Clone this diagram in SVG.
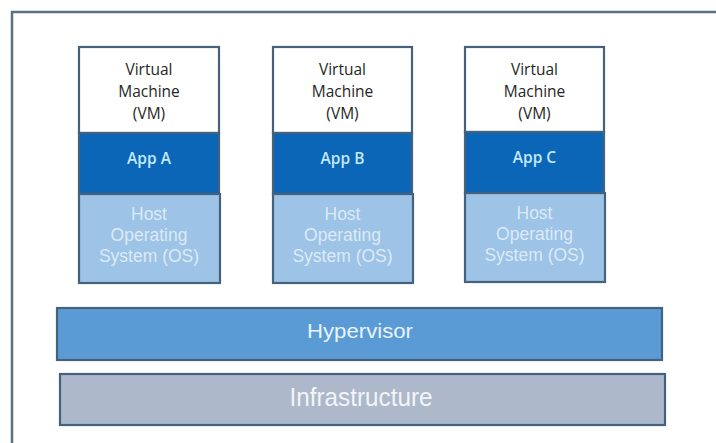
<svg xmlns="http://www.w3.org/2000/svg" width="716" height="443" viewBox="0 0 716 443">
  <style>
    .frame { fill: none; stroke: #587183; stroke-width: 2.5; }
    .box { stroke: #45627C; stroke-width: 2.2; }
    .vm { fill: #FFFFFF; }
    .app { fill: #0B66B7; }
    .host { fill: #9DC3E6; }
    .hyp { fill: #5B9BD5; }
    .infra { fill: #ADB9CA; }
    .t-vm { font-family: "Open Sans", "DejaVu Sans", sans-serif; font-size: 15.5px; fill: #262626; text-anchor: middle; }
    .t-app { font-family: "Open Sans", "DejaVu Sans", sans-serif; font-size: 15.5px; font-weight: 600; fill: #C3E8FA; text-anchor: middle; }
    .t-host { font-family: "Liberation Sans", Arial, sans-serif; font-size: 17.5px; fill: #DCEAF6; text-anchor: middle; }
    .t-hyp { font-family: "Liberation Sans", Arial, sans-serif; font-size: 21px; fill: #E8F4FF; text-anchor: middle; }
    .t-infra { font-family: "Liberation Sans", Arial, sans-serif; font-size: 26px; fill: #F2F4F8; text-anchor: middle; }
  </style>
  <rect x="0" y="0" width="716" height="443" fill="#FFFFFF"/>
  <path class="frame" d="M12,443 V12 H716"/>

  <g id="vm-a">
    <rect class="box vm" x="79" y="47" width="140" height="86"/>
    <rect class="box app" x="79" y="133" width="140" height="61"/>
    <rect class="box host" x="79" y="194" width="141" height="89"/>
    <text class="t-vm" x="149" y="75">Virtual</text>
    <text class="t-vm" x="149" y="97">Machine</text>
    <text class="t-vm" x="149" y="119">(VM)</text>
    <text class="t-app" x="149" y="164">App A</text>
    <text class="t-host" x="149" y="220">Host</text>
    <text class="t-host" x="149" y="241">Operating</text>
    <text class="t-host" x="149" y="262">System (OS)</text>
  </g>

  <g id="vm-b">
    <rect class="box vm" x="273" y="47" width="139" height="86"/>
    <rect class="box app" x="273" y="133" width="139" height="61"/>
    <rect class="box host" x="273" y="194" width="140" height="89"/>
    <text class="t-vm" x="342.5" y="75">Virtual</text>
    <text class="t-vm" x="342.5" y="97">Machine</text>
    <text class="t-vm" x="342.5" y="119">(VM)</text>
    <text class="t-app" x="342.5" y="164">App B</text>
    <text class="t-host" x="342.5" y="220">Host</text>
    <text class="t-host" x="342.5" y="241">Operating</text>
    <text class="t-host" x="342.5" y="262">System (OS)</text>
  </g>

  <g id="vm-c">
    <rect class="box vm" x="465" y="47" width="139" height="85"/>
    <rect class="box app" x="465" y="132" width="139" height="61"/>
    <rect class="box host" x="465" y="193" width="140" height="89"/>
    <text class="t-vm" x="534.5" y="75">Virtual</text>
    <text class="t-vm" x="534.5" y="97">Machine</text>
    <text class="t-vm" x="534.5" y="119">(VM)</text>
    <text class="t-app" x="534.5" y="163">App C</text>
    <text class="t-host" x="534.5" y="219">Host</text>
    <text class="t-host" x="534.5" y="240">Operating</text>
    <text class="t-host" x="534.5" y="261">System (OS)</text>
  </g>

  <g id="hypervisor">
    <rect class="box hyp" x="57" y="308" width="605" height="52"/>
    <text class="t-hyp" x="360" y="338" textLength="106" lengthAdjust="spacingAndGlyphs">Hypervisor</text>
  </g>

  <g id="infrastructure">
    <rect class="box infra" x="60" y="374" width="605" height="51"/>
    <text class="t-infra" x="361" y="406" textLength="143" lengthAdjust="spacingAndGlyphs">Infrastructure</text>
  </g>

  <g id="connectors"/>
</svg>
